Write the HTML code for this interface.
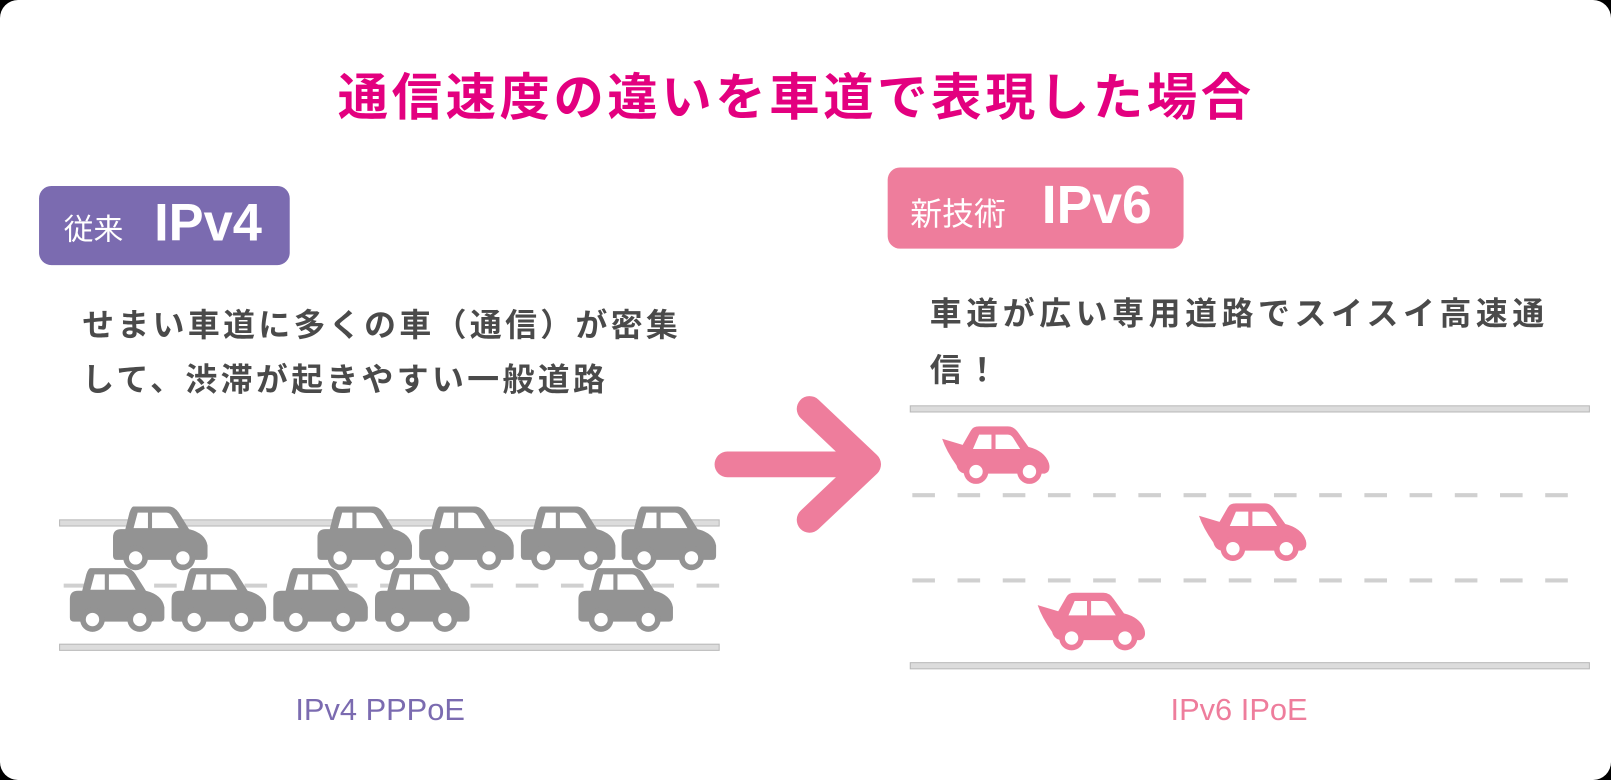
<!DOCTYPE html>
<html><head><meta charset="utf-8"><style>
html,body{margin:0;padding:0;background:#000;overflow:hidden;width:1611px;height:780px;}
body{position:relative;font-family:"Liberation Sans","Noto Sans CJK JP",sans-serif;}
.card{position:absolute;left:0;top:0;width:1611px;height:780px;background:#fff;border-radius:18px;}
.wrap{position:absolute;left:0;top:0;width:1568px;height:759px;overflow:hidden;transform:scale(1.0274);transform-origin:0 0;}
.t{position:absolute;white-space:nowrap;font-weight:bold;}
</style></head><body>
<div class="card"></div>
<div class="wrap">
<div class="t" style="left:0;width:1550px;text-align:center;top:56px;font-size:49px;color:#e3007f;letter-spacing:3.5px;">通信速度の違いを車道で表現した場合</div>

<div style="position:absolute;left:38px;top:181px;width:244px;height:77px;background:#7b6bb0;border-radius:12px;"></div>
<div class="t" style="left:62px;top:200px;font-size:29px;color:#fff;font-weight:normal;">従来</div>
<div class="t" style="left:150px;top:187px;font-size:51px;color:#fff;">IPv4</div>

<div style="position:absolute;left:864px;top:163px;width:288px;height:79px;background:#ee7d9c;border-radius:12px;"></div>
<div class="t" style="left:886px;top:183px;font-size:31px;color:#fff;font-weight:normal;">新技術</div>
<div class="t" style="left:1014px;top:170px;font-size:52px;color:#fff;">IPv6</div>

<div class="t" style="left:80px;top:290px;font-size:31px;line-height:53px;color:#4a4a4a;letter-spacing:3.3px;">せまい車道に多くの車（通信）が密集<br>して、渋滞が起きやすい一般道路</div>
<div class="t" style="left:905px;top:278px;font-size:31px;line-height:55px;color:#4a4a4a;letter-spacing:4.5px;">車道が広い専用道路でスイスイ高速通<br>信！</div>

<div class="t" style="left:220px;width:300px;text-align:center;top:675px;font-size:30px;color:#7b6bb0;font-weight:normal;">IPv4 PPPoE</div>
<div class="t" style="left:1056px;width:300px;text-align:center;top:675px;font-size:30px;color:#ee7d9c;font-weight:normal;">IPv6 IPoE</div>

<svg style="position:absolute;left:0;top:0" width="1568" height="759">
<defs>
<g id="gc">
<path d="M20 0 H54 Q60 0 64 6 L74 22 Q90 26 92 38 V48 Q92 52 88 52 H4 Q0 52 0 48 V30 Q0 22 8 22 H12 L16 6 Q18 0 20 0Z" fill="#939393"/>
<path d="M24 6 H34 V21 H20Z M38 6 H52 Q55 6 57 9 L64 21 H38Z" fill="#fff"/>
<circle cx="22" cy="50" r="12" fill="#939393"/><circle cx="22" cy="50" r="6.5" fill="#fff"/>
<circle cx="68" cy="50" r="12" fill="#939393"/><circle cx="68" cy="50" r="6.5" fill="#fff"/>
</g>
<g id="pc">
<path d="M0 12 L20 18 L28 4 Q30 0 36 0 H64 Q70 0 74 6 L84 20 Q100 24 104 36 Q106 44 100 46 H24 Q16 46 14 38 Q4 24 0 12Z" fill="#ee7d9c"/>
<path d="M36 8 H48 V22 H30Z M52 8 H64 Q67 8 69 11 L76 22 H52Z" fill="#fff"/>
<circle cx="33" cy="44" r="12" fill="#ee7d9c"/><circle cx="33" cy="44" r="6.5" fill="#fff"/>
<circle cx="85" cy="44" r="12" fill="#ee7d9c"/><circle cx="85" cy="44" r="6.5" fill="#fff"/>
</g>
</defs>
<g fill="#dcdcdc" stroke="#b8b8b8" stroke-width="1">
<rect x="58" y="506" width="642" height="6"/>
<rect x="58" y="627" width="642" height="6"/>
<rect x="886" y="395" width="661" height="6"/>
<rect x="886" y="645" width="661" height="6"/>
</g>
<line x1="62" y1="570" x2="700" y2="570" stroke="#d0d0d0" stroke-width="4" stroke-dasharray="22,22"/>
<line x1="888" y1="482" x2="1547" y2="482" stroke="#d0d0d0" stroke-width="4" stroke-dasharray="22,22"/>
<line x1="888" y1="565" x2="1547" y2="565" stroke="#d0d0d0" stroke-width="4" stroke-dasharray="22,22"/>
<use href="#gc" x="110" y="493"/><use href="#gc" x="309" y="493"/><use href="#gc" x="408" y="493"/><use href="#gc" x="507" y="493"/><use href="#gc" x="605" y="493"/>
<use href="#gc" x="68" y="553"/><use href="#gc" x="167" y="553"/><use href="#gc" x="266" y="553"/><use href="#gc" x="365" y="553"/><use href="#gc" x="563" y="553"/>
<use href="#pc" x="917" y="415"/><use href="#pc" x="1167" y="490"/><use href="#pc" x="1010" y="577"/>
<g stroke="#ee7d9c" stroke-width="25" stroke-linecap="round" stroke-linejoin="round" fill="none">
<line x1="708" y1="452" x2="840" y2="452"/>
<polyline points="788,398 845,452 788,506"/>
</g>
</svg>
</div>
</body></html>
